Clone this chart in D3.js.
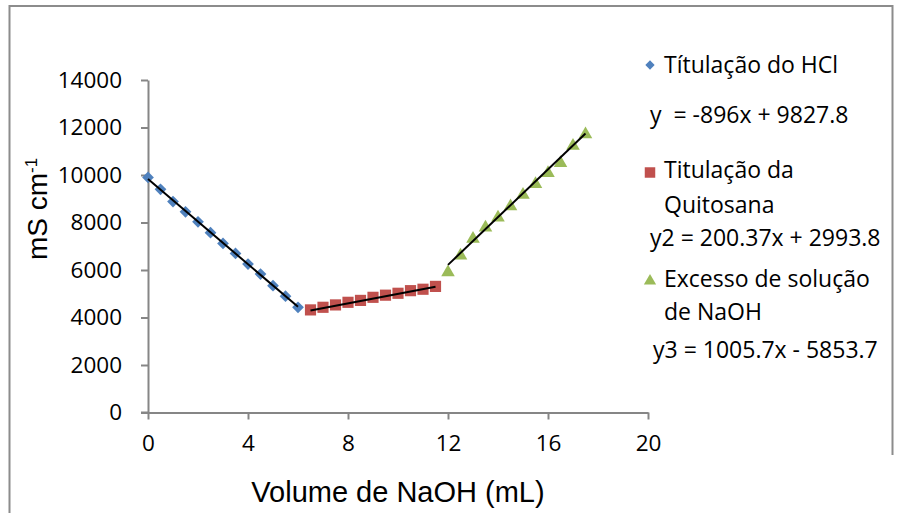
<!DOCTYPE html>
<html>
<head>
<meta charset="utf-8">
<script src="https://cdn.jsdelivr.net/npm/d3@7"></script>
<style>
  html, body { margin: 0; padding: 0; background: #fff; }
  svg { display: block; }
  text { white-space: pre; }
</style>
</head>
<body>
<svg id="chart" width="901" height="513"></svg>
<script>
// ---- data ----
const xHCl   = [0, 0.5, 1, 1.5, 2, 2.5, 3, 3.5, 4, 4.5, 5, 5.5, 6];
const yHCl   = [9900, 9400, 8880, 8450, 8030, 7570, 7120, 6700, 6250, 5830, 5340, 4900, 4430];
const xQuit  = [6.5, 7, 7.5, 8, 8.5, 9, 9.5, 10, 10.5, 11, 11.5];
const yQuit  = [4320, 4430, 4530, 4640, 4720, 4850, 4940, 5020, 5130, 5190, 5310];
const xNaOH  = [12, 12.5, 13, 13.5, 14, 14.5, 15, 15.5, 16, 16.5, 17, 17.5];
const yNaOH  = [5960, 6670, 7380, 7850, 8270, 8740, 9230, 9680, 10140, 10560, 11290, 11780];

const seriesNames = ["Títulação do HCl", "Titulação da Quitosana", "Excesso de solução de NaOH"];
const slopes      = [-896, 200.37, 1005.7];
const intercepts  = [9827.8, 2993.8, -5853.7];
const equations   = ["y  = -896x + 9827.8", "y2 = 200.37x + 2993.8", "y3 = 1005.7x - 5853.7"];

const xTicks = [0, 4, 8, 12, 16, 20];
const yTicks = [0, 2000, 4000, 6000, 8000, 10000, 12000, 14000];

// ---- layout ----
const svg = d3.select("#chart");
const x = d3.scaleLinear().domain([0, 20]).range([148, 648]);
const y = d3.scaleLinear().domain([0, 14000]).range([412.5, 80]);

const axisColor = "#868686";
const tickFont = "'Open Sans', 'Noto Sans', sans-serif";
const titleFont = "'Liberation Sans', Arial, sans-serif";
const colors = ["#4F81BD", "#C0504D", "#9BBB59"];

// chart outer border (left, top, right)
svg.append("path").attr("d", "M9.5,513 V6 H892.5 V455")
  .attr("fill", "none").attr("stroke", "#8c8c8c").attr("stroke-width", 2);

// axes
const xAxis = svg.append("g").attr("transform", `translate(0,${y(0)})`)
  .call(d3.axisBottom(x).tickValues(xTicks).tickSize(7).tickSizeOuter(0).tickPadding(10).tickFormat(d3.format("d")));
const yAxis = svg.append("g").attr("transform", `translate(${x(0)},0)`)
  .call(d3.axisLeft(y).tickValues(yTicks).tickSize(7).tickSizeOuter(0).tickPadding(19).tickFormat(d3.format("d")));

[xAxis, yAxis].forEach(g => {
  g.select(".domain").attr("stroke", axisColor).attr("stroke-width", 2);
  g.selectAll(".tick line").attr("stroke", axisColor).attr("stroke-width", 2);
  g.selectAll(".tick text").attr("fill", "#000").style("font-family", tickFont).style("font-size", "22.5px");
});
svg.append("line").attr("x1", x(0) - 7).attr("x2", x(0)).attr("y1", y(0)).attr("y2", y(0))
  .attr("stroke", axisColor).attr("stroke-width", 2);
xAxis.selectAll(".tick text").attr("dy", "0.95em");

// axis titles
svg.append("text").attr("x", 398).attr("y", 502)
  .attr("text-anchor", "middle").style("font-family", titleFont).style("font-size", "29px")
  .attr("fill", "#000").text("Volume de NaOH (mL)");

const yt = svg.append("text").attr("transform", "translate(47,209) rotate(-90)")
  .attr("text-anchor", "middle").style("font-family", titleFont).style("font-size", "28px")
  .attr("fill", "#000");
yt.append("tspan").text("mS cm");
yt.append("tspan").attr("dy", "-0.6em").style("font-size", "17px").text("-1");

// markers
const markers = svg.append("g").attr("class", "markers");
markers.selectAll(".dia").data(xHCl.map((d, i) => [d, yHCl[i]])).join("path")
  .attr("d", d3.symbol().type(d3.symbolDiamond2).size(88))
  .attr("transform", d => `translate(${x(d[0])},${y(d[1])})`)
  .attr("fill", colors[0]);
markers.selectAll(".sq").data(xQuit.map((d, i) => [d, yQuit[i]])).join("path")
  .attr("d", d3.symbol().type(d3.symbolSquare).size(125))
  .attr("transform", d => `translate(${x(d[0])},${y(d[1])})`)
  .attr("fill", colors[1]);
markers.selectAll(".tri").data(xNaOH.map((d, i) => [d, yNaOH[i]])).join("path")
  .attr("d", d3.symbol().type(d3.symbolTriangle).size(80))
  .attr("transform", d => `translate(${x(d[0])},${y(d[1]) + 1.5})`)
  .attr("fill", colors[2]);

// trend lines (on top of markers)
const fitRanges = [[d3.min(xHCl), d3.max(xHCl)], [d3.min(xQuit), d3.max(xQuit)], [d3.min(xNaOH), d3.max(xNaOH)]];
fitRanges.forEach((r, i) => {
  svg.append("line")
    .attr("x1", x(r[0])).attr("y1", y(slopes[i] * r[0] + intercepts[i]))
    .attr("x2", x(r[1])).attr("y2", y(slopes[i] * r[1] + intercepts[i]))
    .attr("stroke", "#000").attr("stroke-width", 2);
});

// legend
const lg = svg.append("g");
const legFont = "font-family:" + tickFont + ";font-size:23px;fill:#000";
function legText(txt, xx, yy) {
  lg.append("text").attr("x", xx).attr("y", yy).attr("style", legFont).text(txt);
}
lg.append("path").attr("d", d3.symbol().type(d3.symbolDiamond2).size(55)).attr("transform", "translate(650,65)").attr("fill", colors[0]);
legText(seriesNames[0], 664, 73);
legText(equations[0], 650, 123);
lg.append("path").attr("d", d3.symbol().type(d3.symbolSquare).size(110)).attr("transform", "translate(650,172.5)").attr("fill", colors[1]);
legText("Titulação da", 664, 178);
legText("Quitosana", 664, 213);
legText(equations[1], 650, 246);
lg.append("path").attr("d", d3.symbol().type(d3.symbolTriangle).size(65)).attr("transform", "translate(650,281)").attr("fill", colors[2]);
legText("Excesso de solução", 664, 287);
legText("de NaOH", 664, 320);
legText(equations[2], 653, 358);
</script>
</body>
</html>
